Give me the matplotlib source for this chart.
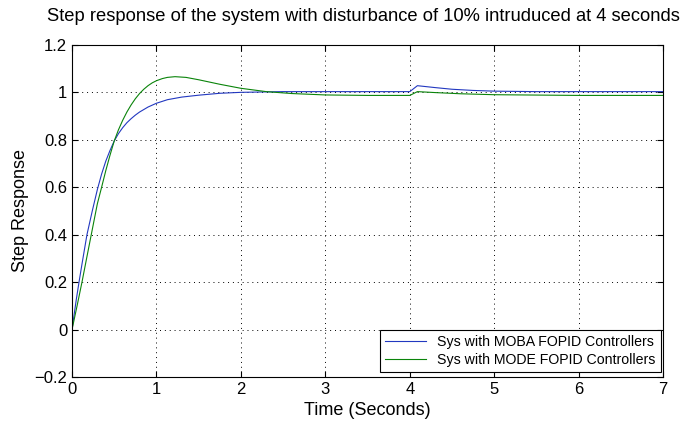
import matplotlib
matplotlib.use("Agg")
import matplotlib.pyplot as plt

# ---------- 数据 ----------
t_moba = [0, 0.05, 0.083, 0.12, 0.177, 0.24, 0.3, 0.35, 0.4, 0.45, 0.5, 0.55, 0.6, 0.65,
          0.7, 0.75, 0.8, 0.9, 1.0, 1.13, 1.3, 1.5, 1.75, 2.0, 2.5, 4.0, 4.09, 4.3, 4.5,
          4.75, 5.0, 5.5, 7.0]
y_moba = [0, 0.125, 0.2, 0.28, 0.4, 0.5, 0.59, 0.655, 0.71, 0.755, 0.795, 0.826, 0.851,
          0.872, 0.889, 0.904, 0.917, 0.938, 0.954, 0.969, 0.98, 0.988, 0.996, 1.0, 1.003,
          1.003, 1.028, 1.02, 1.013, 1.008, 1.005, 1.003, 1.003]

t_mode = [0, 0.06, 0.118, 0.17, 0.228, 0.3, 0.347, 0.4, 0.45, 0.5, 0.55, 0.6, 0.65, 0.7,
          0.75, 0.8, 0.85, 0.9, 0.95, 1.0, 1.07, 1.13, 1.22, 1.35, 1.5, 1.75, 2.0, 2.3, 2.6,
          3.0, 3.5, 4.0, 4.09, 4.3, 4.6, 5.0, 6.0, 7.0]
y_mode = [0, 0.1, 0.2, 0.295, 0.4, 0.53, 0.595, 0.67, 0.735, 0.795, 0.842, 0.882, 0.917,
          0.947, 0.973, 0.995, 1.013, 1.028, 1.04, 1.049, 1.058, 1.063, 1.066, 1.063,
          1.053, 1.034, 1.017, 1.003, 0.995, 0.989, 0.987, 0.987, 1.003, 0.999, 0.994,
          0.99, 0.987, 0.987]

labels = ["Sys with MOBA FOPID Controllers", "Sys with MODE FOPID Controllers"]
x_ticks = [0, 1, 2, 3, 4, 5, 6, 7]
y_ticks = [-0.2, 0, 0.2, 0.4, 0.6, 0.8, 1.0, 1.2]
y_tick_labels = ["\u22120.2", "0", "0.2", "0.4", "0.6", "0.8", "1", "1.2"]

plt.rcParams["font.family"] = ["Liberation Sans", "DejaVu Sans"]

fig = plt.figure(figsize=(6.89, 4.40), dpi=100)
ax = fig.add_axes([0.1045, 0.143, 0.858, 0.755])

ax.plot(t_moba, y_moba, color="#2238c0", lw=0.8, label=labels[0])
ax.plot(t_mode, y_mode, color="#0a840a", lw=0.8, label=labels[1])

ax.set_xlim(0, 7)
ax.set_ylim(-0.2, 1.2)
ax.set_xticks(x_ticks)
ax.set_yticks(y_ticks)
ax.set_yticklabels(y_tick_labels)
ax.tick_params(direction="in", labelsize=12, length=4, width=0.8, top=True, right=True)
ax.grid(True, color="black", linestyle=(0, (1, 4)), linewidth=0.7)
for s in ax.spines.values():
    s.set_linewidth(0.8)

ax.set_xlabel("Time (Seconds)", fontsize=13)
ax.set_ylabel("Step Response", fontsize=13)
ax.set_title("Step response of the system with disturbance of 10% intruduced at 4 seconds",
             fontsize=13.2, pad=17, x=0.493)

leg = ax.legend(loc="lower right", bbox_to_anchor=(0.996, 0.016), fontsize=10.2,
                fancybox=False, framealpha=1, edgecolor="black", borderaxespad=0,
                handlelength=2.9, borderpad=0.35, labelspacing=0.3)
leg.get_frame().set_linewidth(0.8)

fig.savefig("out.png", dpi=100)
